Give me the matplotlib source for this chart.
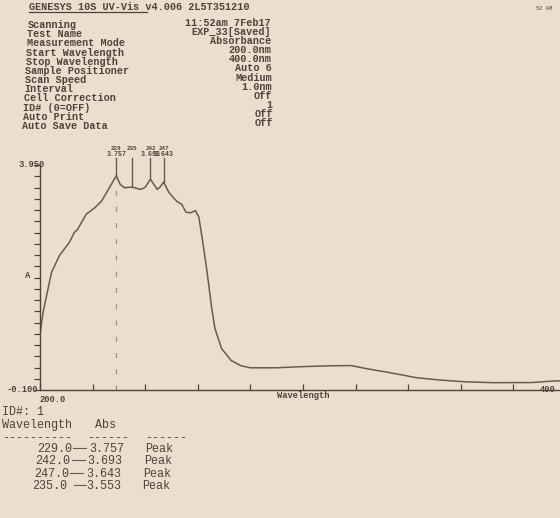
import matplotlib
matplotlib.use("Agg")
import matplotlib.pyplot as plt
import numpy as np
from matplotlib.lines import Line2D

# ---------------- data ----------------
wavelength = [200, 201.2, 204.4, 207.4, 211.2, 213.1, 214.3, 217.5, 220.8, 223.4, 226.0,
              229, 230.5, 232.1, 235, 238.3, 240.0, 242, 244.6, 245.8, 247, 249.1, 251.9,
              253.9, 255.5, 257.3, 259.1, 260.4, 261.8, 263.6, 265.3, 266.5, 269, 272.7,
              276.5, 280, 290, 299.3, 310, 318.3, 324.6, 332.1, 343.3, 352, 360.7, 372,
              387, 394.5, 400]
absorbance = [0.90, 1.31, 2.02, 2.32, 2.56, 2.74, 2.79, 3.06, 3.18, 3.30, 3.51,
              3.757, 3.60, 3.54, 3.553, 3.51, 3.55, 3.693, 3.51, 3.56, 3.643, 3.45, 3.30,
              3.24, 3.10, 3.09, 3.13, 3.01, 2.59, 2.00, 1.37, 1.01, 0.65, 0.43,
              0.335, 0.30, 0.30, 0.32, 0.335, 0.34, 0.28, 0.22, 0.12, 0.08, 0.05, 0.032,
              0.034, 0.06, 0.07]

peak_wl = [229.0, 242.0, 247.0, 235.0]
peak_abs = [3.757, 3.693, 3.643, 3.553]
peak_wl_labels = ["229", "242", "247", "235"]
peak_abs_labels = ["3.757", "3.693", "3.643", "3.553"]
peak_abs_printed = [True, True, True, False]   # the printer did not print the 235 value

y_min, y_max = -0.100, 3.950
x_min, x_max = 200.0, 400.0
x_tick_values = [200, 220, 240, 260, 280, 300, 320, 340, 360, 380, 400]

header_title = "GENESYS 10S UV-Vis v4.006 2L5T351210"
header_labels = ["Scanning", "Test Name", "Measurement Mode", "Start Wavelength",
                 "Stop Wavelength", "Sample Positioner", "Scan Speed", "Interval",
                 "Cell Correction", "ID# (0=OFF)", "Auto Print", "Auto Save Data"]
header_values = ["11:52am 7Feb17", "EXP_33[Saved]", "Absorbance", "200.0nm", "400.0nm",
                 "Auto 6", "Medium", "1.0nm", "Off", "1", "Off", "Off"]

table_wl = ["229.0", "242.0", "247.0", "235.0"]
table_abs = ["3.757", "3.693", "3.643", "3.553"]
table_type = ["Peak", "Peak", "Peak", "Peak"]

# ---------------- style ----------------
W, H = 560, 518
paper = "#ecdecc"
ink = "#4b433c"
ink_light = "#655b53"
mono = ["Liberation Mono", "DejaVu Sans Mono"]

fig = plt.figure(figsize=(W / 100, H / 100), dpi=100)
fig.patch.set_facecolor(paper)


def fx(x):
    return x / W


def fy(y):
    return 1 - y / H


# ---------------- chart ----------------
ax_left, ax_right = 40, 566
ax_top, ax_bottom = 165, 390
ax = fig.add_axes([fx(ax_left), fy(ax_bottom), (ax_right - ax_left) / W, (ax_bottom - ax_top) / H])
ax.set_facecolor("none")
ax.set_xlim(x_min, x_max)
ax.set_ylim(y_min, y_max)
for s in ["top", "right"]:
    ax.spines[s].set_visible(False)
for s in ["left", "bottom"]:
    ax.spines[s].set_color(ink)
    ax.spines[s].set_linewidth(1.0)

ax.plot(wavelength, absorbance, color=ink_light, lw=1.1, solid_joinstyle="round")

ax.set_xticks(x_tick_values)
ax.set_xticklabels([])
ax.set_yticks(np.linspace(y_min, y_max, 21))
ax.set_yticklabels([])
ax.tick_params(axis="x", direction="in", length=4, width=0.9, color=ink)
ax.tick_params(axis="y", direction="out", length=4, width=0.9, color=ink)

# dashed line at the highest peak
ax.plot([peak_wl[0], peak_wl[0]], [y_min, peak_abs[0]], color="#9a8f86", lw=0.9,
        ls=(0, (4, 9)))

# peak markers and labels
for w, a, wl_lab, ab_lab, shown in zip(peak_wl, peak_abs, peak_wl_labels,
                                       peak_abs_labels, peak_abs_printed):
    ax.plot([w, w], [a, 4.07], color=ink_light, lw=1.0, clip_on=False)
    ax.text(w, 4.24, wl_lab, ha="center", va="center", fontsize=4.2, color=ink,
            family=mono, fontweight="bold", clip_on=False)
    if shown:
        ax.text(w, 4.13, ab_lab, ha="center", va="center", fontsize=4.8, color=ink,
                family=mono, fontweight="bold", clip_on=False)

# axis labels
small = dict(family=mono, fontweight="bold", color=ink, fontsize=6.3)
fig.text(fx(45), fy(165), "3.950", ha="right", va="center", **small)
fig.text(fx(38), fy(390), "-0.100", ha="right", va="center", **small)
fig.text(fx(39), fy(399), "200.0", ha="left", va="center", **small)
fig.text(fx(28), fy(276), "A", ha="center", va="center", **small)
fig.text(fx(303), fy(395), "Wavelength", ha="center", va="center", **small)
fig.text(fx(548), fy(390), "400", ha="center", va="center", **small)

# ---------------- header ----------------
hdr = dict(family=mono, fontweight="bold", color=ink, fontsize=7.3)
fig.text(fx(30), fy(-2.5), "TEST SELECT", ha="left", va="center", **hdr)
fig.text(fx(29), fy(7), header_title, ha="left", va="center", **hdr)
fig.add_artist(Line2D([fx(29), fx(147)], [fy(12), fy(12)], color=ink, lw=0.9))
fig.text(fx(544), fy(8), "52 AM", ha="center", va="center", family=mono,
         fontweight="bold", color="#7a6f66", fontsize=4)

n = len(header_labels)
for i, (lab, val) in enumerate(zip(header_labels, header_values)):
    yl = 25 + i * (126 - 25) / (n - 1)
    xl = 28 - i * 6 / (n - 1)
    fig.text(fx(xl), fy(yl), lab, ha="left", va="center", **hdr)
    yv = 23 + i * (123 - 23) / (n - 1)
    xv = 271 + i * 2 / (n - 1)
    fig.text(fx(xv), fy(yv), val, ha="right", va="center", **hdr)

# ---------------- table ----------------
tab = dict(family=mono, color=ink, fontsize=8.5)
fig.text(fx(2), fy(412), "ID#: 1", ha="left", va="center", **tab)
fig.text(fx(2), fy(425), "Wavelength", ha="left", va="center", **tab)
fig.text(fx(95), fy(425), "Abs", ha="left", va="center", **tab)
fig.text(fx(2), fy(438), "----------", ha="left", va="center", **tab)
fig.text(fx(87), fy(438), "------", ha="left", va="center", **tab)
fig.text(fx(145), fy(438), "------", ha="left", va="center", **tab)

for i, (w, a, t) in enumerate(zip(table_wl, table_abs, table_type)):
    y = 449 + i * 12.4
    xr = 72 - i * 1.5
    fig.text(fx(xr), fy(y), w, ha="right", va="center", **tab)
    fig.add_artist(Line2D([fx(xr + 1 + (5 if i == 3 else 0)), fx(xr + 14 + (4 if i == 3 else 0))],
                          [fy(y - 1), fy(y - 1)], color=ink_light, lw=0.8))
    fig.text(fx(xr + 17 + (2 if i == 3 else 0)), fy(y), a, ha="left", va="center", **tab)
    fig.text(fx(145 - i * 0.8), fy(y), t, ha="left", va="center", **tab)

fig.savefig("out.png", dpi=100, facecolor=fig.get_facecolor())
